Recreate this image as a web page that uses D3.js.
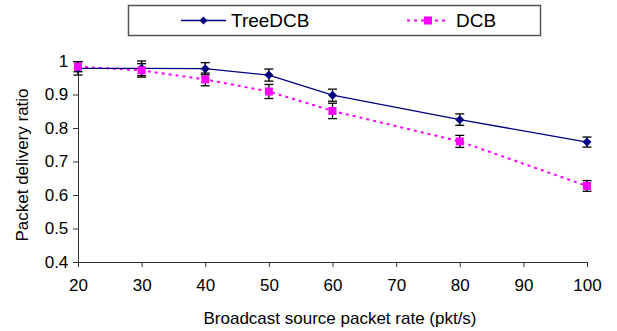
<!DOCTYPE html>
<html><head><meta charset="utf-8">
<script src="https://cdn.jsdelivr.net/npm/d3@7"></script>
<style>
body{margin:0;background:#fff;}
text{font-family:"Liberation Sans",Arial,sans-serif;}
</style></head>
<body><svg id="c" width="617" height="331"></svg>
<script>
const rates = [20, 30, 40, 50, 60, 80, 100];
const treeDCB = [0.978, 0.978, 0.977, 0.958, 0.898, 0.825, 0.758];
const treeErr = [0.02, 0.022, 0.018, 0.018, 0.018, 0.017, 0.015];
const dcb = [0.983, 0.972, 0.945, 0.909, 0.851, 0.760, 0.627];
const dcbErr = [0.015, 0.02, 0.019, 0.021, 0.023, 0.018, 0.016];
const xTicks = [20, 30, 40, 50, 60, 70, 80, 90, 100];
const yTicks = [0.4, 0.5, 0.6, 0.7, 0.8, 0.9, 1];

const svg = d3.select("#c");
const x = d3.scaleLinear().domain([20, 100]).range([78, 587]);
const y = d3.scaleLinear().domain([0.4, 1]).range([262, 61]);

const xAxis = svg.append("g").attr("transform", "translate(0,262)")
  .call(d3.axisBottom(x).tickValues(xTicks).tickSize(5).tickSizeOuter(0).tickFormat(d3.format("d")));
const yAxis = svg.append("g").attr("transform", "translate(78,0)")
  .call(d3.axisLeft(y).tickValues(yTicks).tickSize(5).tickSizeOuter(0).tickFormat(d => d === 1 ? "1" : d3.format(".1f")(d)));
[xAxis, yAxis].forEach(a => {
  a.selectAll("path,line").attr("stroke", "#333").attr("stroke-width", 1);
  a.selectAll("text").attr("font-size", 17).attr("fill", "#000").style("font-family", "Liberation Sans, Arial, sans-serif");
});
xAxis.selectAll("text").attr("dy", "1.25em");
yAxis.selectAll("text").attr("dx", "-0.1em");

svg.append("text").attr("x", 340).attr("y", 324).attr("text-anchor", "middle")
  .attr("font-size", 17).text("Broadcast source packet rate (pkt/s)");
svg.append("text").attr("transform", "translate(28,165) rotate(-90)").attr("text-anchor", "middle")
  .attr("font-size", 17).text("Packet delivery ratio");

const pts = (vals) => rates.map((r, i) => [x(r), y(vals[i])]);
const line = d3.line();

svg.append("path").attr("d", line(pts(dcb))).attr("fill", "none")
  .attr("stroke", "#ff00ff").attr("stroke-width", 2).attr("stroke-dasharray", "3,4");
svg.append("path").attr("d", line(pts(treeDCB))).attr("fill", "none")
  .attr("stroke", "#000080").attr("stroke-width", 1.3);

function errBars(vals, errs) {
  const g = svg.append("g").attr("stroke", "#000").attr("stroke-width", 1.3);
  rates.forEach((r, i) => {
    const cx = x(r), t = y(vals[i] + errs[i]), b = y(vals[i] - errs[i]);
    g.append("line").attr("x1", cx).attr("x2", cx).attr("y1", t).attr("y2", b);
    g.append("line").attr("x1", cx - 4.5).attr("x2", cx + 4.5).attr("y1", t).attr("y2", t);
    g.append("line").attr("x1", cx - 4.5).attr("x2", cx + 4.5).attr("y1", b).attr("y2", b);
  });
}
errBars(treeDCB, treeErr);
errBars(dcb, dcbErr);

const diamond = (cx, cy, s) => `M${cx},${cy - s}L${cx + s},${cy}L${cx},${cy + s}L${cx - s},${cy}Z`;
svg.append("g").selectAll("path").data(pts(treeDCB)).join("path")
  .attr("d", d => diamond(d[0], d[1], 4.5)).attr("fill", "#000080");
svg.append("g").selectAll("rect").data(pts(dcb)).join("rect")
  .attr("x", d => d[0] - 4).attr("y", d => d[1] - 4).attr("width", 8).attr("height", 8).attr("fill", "#ff00ff");

// legend
const lg = svg.append("g");
lg.append("rect").attr("x", 128.5).attr("y", 5.5).attr("width", 412).attr("height", 30)
  .attr("fill", "#fff").attr("stroke", "#555").attr("stroke-width", 1.5);
lg.append("line").attr("x1", 181).attr("x2", 226).attr("y1", 20.5).attr("y2", 20.5)
  .attr("stroke", "#000080").attr("stroke-width", 1.3);
lg.append("path").attr("d", diamond(203.5, 20.5, 4)).attr("fill", "#000080");
lg.append("text").attr("x", 231).attr("y", 27).attr("font-size", 19).text("TreeDCB");
lg.append("line").attr("x1", 407).attr("x2", 449).attr("y1", 20.5).attr("y2", 20.5)
  .attr("stroke", "#ff00ff").attr("stroke-width", 2).attr("stroke-dasharray", "3,4");
lg.append("rect").attr("x", 424).attr("y", 16.5).attr("width", 8).attr("height", 8).attr("fill", "#ff00ff");
lg.append("text").attr("x", 456).attr("y", 27).attr("font-size", 19).text("DCB");
</script></body></html>
